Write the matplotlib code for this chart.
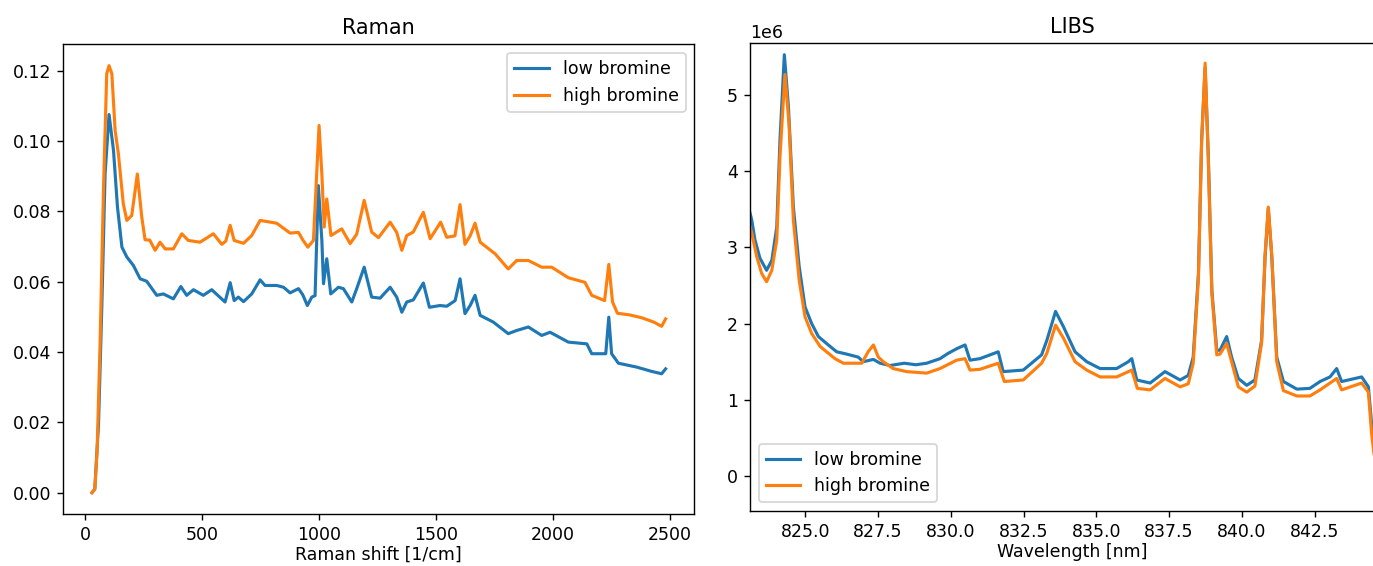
import numpy as np
import matplotlib
matplotlib.use("Agg")
import matplotlib.pyplot as plt

# Raman spectra
raman_low_x = [28, 40, 56, 70, 84, 101, 120, 137, 156, 177, 205, 234, 262, 305, 333, 376, 408, 433,
               462, 504, 540, 597, 619, 636, 654, 676, 711, 747, 768, 818, 847, 875, 911, 929, 949,
               968, 982, 996, 1011, 1018, 1032, 1049, 1082, 1103, 1139, 1160, 1192, 1224, 1260,
               1303, 1331, 1353, 1374, 1402, 1445, 1471, 1516, 1545, 1581, 1602, 1623, 1645, 1666,
               1688, 1744, 1808, 1844, 1894, 1951, 1987, 2065, 2144, 2165, 2225, 2238, 2250, 2279,
               2357, 2420, 2464, 2481]
raman_low_y = [0.0000, 0.0010, 0.0196, 0.0527, 0.0906, 0.1075, 0.0973, 0.0812, 0.0698, 0.0670,
               0.0646, 0.0608, 0.0601, 0.0561, 0.0565, 0.0551, 0.0586, 0.0561, 0.0577, 0.0561,
               0.0577, 0.0542, 0.0597, 0.0546, 0.0556, 0.0543, 0.0565, 0.0605, 0.0589, 0.0589,
               0.0584, 0.0568, 0.0580, 0.0563, 0.0532, 0.0556, 0.0560, 0.0873, 0.0717, 0.0594,
               0.0665, 0.0565, 0.0584, 0.0580, 0.0542, 0.0580, 0.0641, 0.0556, 0.0553, 0.0584,
               0.0556, 0.0513, 0.0542, 0.0548, 0.0596, 0.0527, 0.0532, 0.0530, 0.0546, 0.0608,
               0.0509, 0.0532, 0.0561, 0.0504, 0.0485, 0.0452, 0.0461, 0.0471, 0.0447, 0.0456,
               0.0428, 0.0423, 0.0395, 0.0395, 0.0499, 0.0395, 0.0368, 0.0357, 0.0345, 0.0338,
               0.0352]
raman_high_x = [28, 40, 50, 63, 77, 91, 101, 113, 127, 141, 162, 177, 198, 222, 241, 255, 275, 298,
                319, 341, 376, 412, 440, 490, 547, 583, 600, 619, 636, 676, 711, 747, 818, 875, 911,
                929, 951, 975, 999, 1011, 1021, 1032, 1050, 1096, 1132, 1160, 1192, 1224, 1253,
                1303, 1331, 1353, 1374, 1402, 1445, 1474, 1519, 1545, 1580, 1602, 1623, 1645, 1666,
                1688, 1752, 1808, 1844, 1894, 1951, 1994, 2065, 2136, 2165, 2220, 2238, 2254, 2275,
                2330, 2380, 2430, 2464, 2481]
raman_high_y = [0.0000, 0.0010, 0.0120, 0.0433, 0.0859, 0.1191, 0.1214, 0.1191, 0.1030, 0.0963,
                0.0821, 0.0774, 0.0788, 0.0906, 0.0783, 0.0719, 0.0718, 0.0689, 0.0712, 0.0693,
                0.0693, 0.0736, 0.0717, 0.0712, 0.0736, 0.0706, 0.0715, 0.0760, 0.0717, 0.0709,
                0.0731, 0.0774, 0.0766, 0.0738, 0.0740, 0.0719, 0.0698, 0.0717, 0.1044, 0.0906,
                0.0755, 0.0835, 0.0731, 0.0750, 0.0708, 0.0735, 0.0831, 0.0741, 0.0725, 0.0769,
                0.0740, 0.0689, 0.0731, 0.0741, 0.0797, 0.0722, 0.0769, 0.0726, 0.0730, 0.0819,
                0.0706, 0.0730, 0.0766, 0.0712, 0.0679, 0.0636, 0.0660, 0.0660, 0.0641, 0.0641,
                0.0611, 0.0598, 0.0561, 0.0546, 0.0649, 0.0542, 0.0510, 0.0505, 0.0497, 0.0485,
                0.0473, 0.0494]

# LIBS spectra, intensity in units of 1e6
libs_low_x = [823.00, 823.16, 823.27, 823.44, 823.67, 823.85, 824.02, 824.13, 824.28, 824.42, 824.59,
              824.79, 824.99, 825.22, 825.45, 825.79, 826.08, 826.42, 826.82, 826.99, 827.34,
              827.57, 827.91, 828.40, 828.80, 829.17, 829.63, 829.91, 830.20, 830.49, 830.66,
              831.00, 831.63, 831.80, 832.49, 833.12, 833.30, 833.60, 833.87, 834.27, 834.67,
              835.13, 835.70, 836.10, 836.22, 836.39, 836.85, 837.36, 837.88, 838.16, 838.33,
              838.51, 838.62, 838.74, 838.85, 838.97, 839.14, 839.25, 839.48, 839.65, 839.88,
              840.17, 840.45, 840.68, 840.80, 840.91, 841.03, 841.20, 841.43, 841.89, 842.34,
              842.69, 843.03, 843.26, 843.43, 844.12, 844.35, 844.46, 844.60, 845.00]
libs_low_y = [3.60, 3.36, 3.10, 2.86, 2.70, 2.83, 3.27, 4.41, 5.53, 4.85, 3.53, 2.75, 2.22, 2.00,
              1.83, 1.72, 1.63, 1.60, 1.56, 1.50, 1.53, 1.48, 1.45, 1.48, 1.46, 1.48, 1.54, 1.61,
              1.67, 1.72, 1.52, 1.54, 1.63, 1.37, 1.39, 1.59, 1.78, 2.16, 1.96, 1.63, 1.50, 1.41,
              1.41, 1.50, 1.54, 1.26, 1.22, 1.37, 1.26, 1.32, 1.56, 2.66, 4.41, 5.36, 4.19, 2.44,
              1.65, 1.65, 1.83, 1.56, 1.28, 1.19, 1.26, 1.78, 2.88, 3.51, 2.88, 1.56, 1.24, 1.14,
              1.15, 1.24, 1.30, 1.41, 1.24, 1.30, 1.17, 0.69, 0.20, 0.00]
libs_high_x = [823.00, 823.16, 823.33, 823.50, 823.67, 823.85, 824.02, 824.13, 824.30, 824.44, 824.59,
               824.79, 824.99, 825.22, 825.51, 826.02, 826.31, 826.94, 827.16, 827.34, 827.51,
               827.68, 828.02, 828.48, 829.17, 829.63, 830.20, 830.49, 830.66, 831.00, 831.63,
               831.84, 832.49, 833.12, 833.30, 833.60, 833.87, 834.27, 834.67, 835.13, 835.70,
               836.22, 836.41, 836.85, 837.36, 837.88, 838.16, 838.33, 838.51, 838.62, 838.74,
               838.85, 838.97, 839.14, 839.25, 839.48, 839.65, 839.88, 840.17, 840.45, 840.68,
               840.80, 840.91, 841.03, 841.20, 841.43, 841.89, 842.34, 842.69, 843.03, 843.26,
               843.43, 844.12, 844.35, 844.46, 844.60, 845.00]
libs_high_y = [3.40, 3.19, 2.88, 2.66, 2.55, 2.70, 3.10, 4.19, 5.27, 4.63, 3.36, 2.57, 2.09, 1.87,
               1.70, 1.54, 1.48, 1.48, 1.63, 1.72, 1.56, 1.50, 1.41, 1.37, 1.35, 1.41, 1.52, 1.54,
               1.39, 1.40, 1.48, 1.24, 1.26, 1.48, 1.61, 1.98, 1.81, 1.50, 1.39, 1.30, 1.30, 1.39,
               1.15, 1.13, 1.28, 1.17, 1.21, 1.48, 2.60, 4.40, 5.42, 4.15, 2.40, 1.59, 1.60, 1.74,
               1.50, 1.17, 1.10, 1.18, 1.75, 2.90, 3.53, 2.90, 1.50, 1.12, 1.05, 1.05, 1.13, 1.22,
               1.28, 1.13, 1.22, 1.10, 0.56, 0.10, -0.10]

labels = ["low bromine", "high bromine"]

fig = plt.figure(figsize=(1373 / 125, 566 / 125), dpi=125)
W, H = 1373.0, 566.0
ax1 = fig.add_axes([63.3 / W, (H - 514) / H, 631 / W, 469.7 / H])
ax2 = fig.add_axes([750 / W, (H - 511) / H, 644 / W, 467.7 / H])

lw = 1.8
ax1.plot(raman_low_x, raman_low_y, lw=lw, label=labels[0])
ax1.plot(raman_high_x, raman_high_y, lw=lw, label=labels[1])
ax1.set_title("Raman")
ax1.set_xlabel("Raman shift [1/cm]", labelpad=1)
ax1.legend(loc="upper right")

ax2.plot(libs_low_x, np.array(libs_low_y) * 1e6, lw=lw, label=labels[0])
ax2.plot(libs_high_x, np.array(libs_high_y) * 1e6, lw=lw, label=labels[1])
ax2.set_xlim(823.1, 845.23)
ax2.set_ylim(-0.46e6, 5.68e6)
ax2.set_xticks([825.0, 827.5, 830.0, 832.5, 835.0, 837.5, 840.0, 842.5])
ax2.set_title("LIBS")
ax2.set_xlabel("Wavelength [nm]", labelpad=1)
ax2.legend(loc="lower left")

fig.savefig("out.png", dpi=125)
